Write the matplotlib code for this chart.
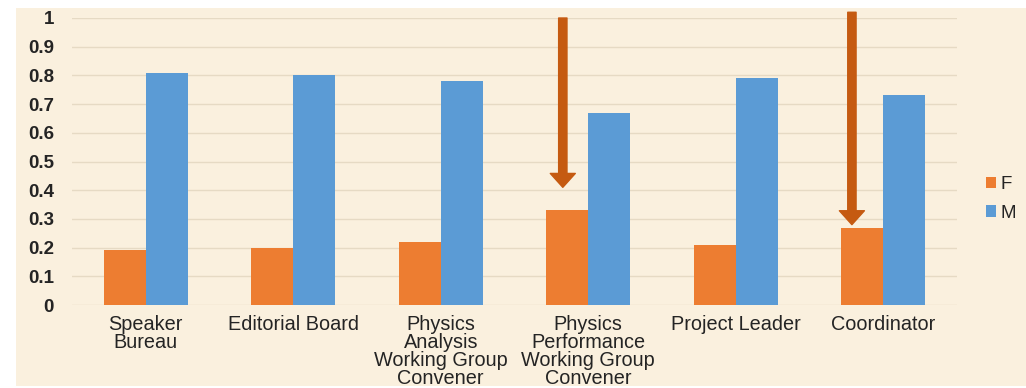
import matplotlib
matplotlib.use("Agg")
import matplotlib.pyplot as plt
import numpy as np
from matplotlib.patches import Rectangle, FancyArrowPatch

# Share of each role held by women (F) and men (M)
categories = [
    "Speaker\nBureau",
    "Editorial Board",
    "Physics\nAnalysis\nWorking Group\nConvener",
    "Physics\nPerformance\nWorking Group\nConvener",
    "Project Leader",
    "Coordinator",
]
female = [0.19, 0.20, 0.22, 0.33, 0.21, 0.27]
male = [0.81, 0.80, 0.78, 0.67, 0.79, 0.73]
y_ticks = [0, 0.1, 0.2, 0.3, 0.4, 0.5, 0.6, 0.7, 0.8, 0.9, 1]
y_tick_labels = ["0", "0.1", "0.2", "0.3", "0.4", "0.5", "0.6", "0.7", "0.8", "0.9", "1"]

# Highlight arrows: category index, arrow tip and tail heights
arrow_cats = [3, 5]
arrow_tips = [0.41, 0.28]
arrow_tails = [1.0, 1.02]

ORANGE = "#ED7D31"
BLUE = "#5B9BD5"
ARROW = "#C55A11"
PAPER = "#FAF0DE"
TEXT = "#242424"

plt.rcParams["font.family"] = ["Liberation Sans", "DejaVu Sans"]

W, H = 1026, 388
fig = plt.figure(figsize=(W / 100, H / 100), dpi=100)
fig.patch.set_facecolor("white")

# Beige slide panel behind the chart
fig.patches.append(Rectangle((16 / W, 2 / H), 1 - 16 / W, (380 - 2) / H,
                             transform=fig.transFigure, facecolor=PAPER,
                             edgecolor="none", zorder=-10))

ax = fig.add_axes([72 / W, 83 / H, (957 - 72) / W, (370 - 83) / H])
ax.set_facecolor("none")

x = np.arange(len(categories))
bw = 0.285
ax.bar(x - bw / 2, female, bw, color=ORANGE, label="F", zorder=3)
ax.bar(x + bw / 2, male, bw, color=BLUE, label="M", zorder=3)

ax.set_xlim(-0.5, len(categories) - 0.5)
ax.set_ylim(0, 1)
ax.set_yticks(y_ticks)
ax.set_yticklabels(y_tick_labels)
ax.set_xticks(x)
ax.set_xticklabels(categories, linespacing=0.93, va="top")

ax.tick_params(axis="y", length=0, pad=13, labelsize=13.5, labelcolor=TEXT)
ax.tick_params(axis="x", length=0, pad=7, labelsize=14.3, labelcolor=TEXT)
for lab in ax.get_yticklabels():
    lab.set_fontweight("bold")

ax.grid(axis="y", color="#E6DAC4", linewidth=1.0, zorder=0)
for s in ax.spines.values():
    s.set_visible(False)

# Downward arrows pointing at the female bars
for ci, tip, tail in zip(arrow_cats, arrow_tips, arrow_tails):
    xa = ci - bw / 2 - 0.03 - 0.02 * (ci - 3)
    arr = FancyArrowPatch((xa, tail), (xa, tip),
                          arrowstyle="simple,head_length=1.0,head_width=1.8,tail_width=0.6",
                          mutation_scale=10, color=ARROW, shrinkA=0, shrinkB=0,
                          zorder=5, clip_on=False)
    ax.add_patch(arr)

leg = ax.legend(loc="center left", bbox_to_anchor=(986 / W, (H - 199) / H),
                bbox_transform=fig.transFigure, frameon=False, borderpad=0,
                borderaxespad=0, handlelength=0.55, handleheight=0.55,
                handletextpad=0.2, labelspacing=0.6, fontsize=13.5)
for t in leg.get_texts():
    t.set_color(TEXT)

fig.savefig("out.png", dpi=100, facecolor=fig.get_facecolor())
